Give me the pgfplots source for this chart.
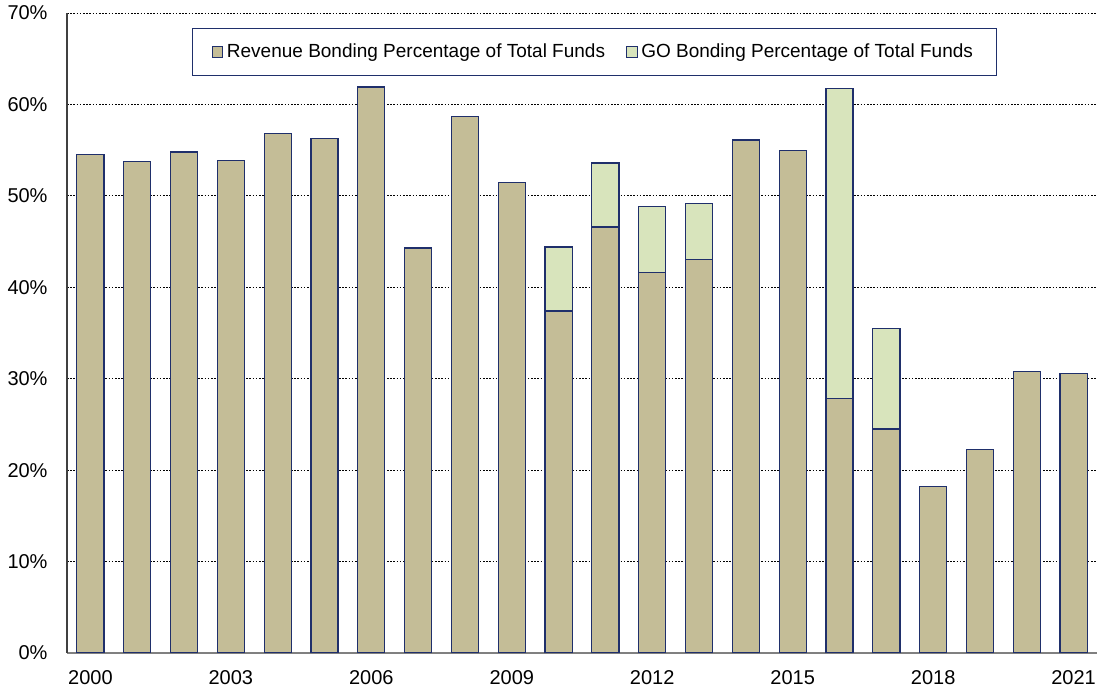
\documentclass[border=0pt]{standalone}
\usepackage{fontspec}
\setmainfont{Liberation Sans}
\usepackage{pgfplots}
\pgfplotsset{compat=1.18}
\definecolor{revc}{HTML}{C4BD97}
\definecolor{goc}{HTML}{D8E4BC}
\definecolor{edgec}{HTML}{1F2F6B}
\begin{document}
\fontsize{10}{12}\selectfont
\begin{tikzpicture}
\begin{axis}[
  name=ax,
  scale only axis,
  width=515pt, height=320pt,
  ybar stacked, bar width=0.58,
  xmin=1999.5, xmax=2021.5,
  ymin=0, ymax=70,
  xtick={2000,2003,2006,2009,2012,2015,2018,2021},
  ytick={0,10,...,70},
  yticklabel={\pgfmathprintnumber{\tick}\%},
  /pgf/number format/1000 sep={},
  /pgf/number format/assume math mode=true,
  tick label style={font=\fontsize{10}{12}\selectfont},
  major tick length=0pt,
  ymajorgrids,
  grid style={black, line width=0.4pt, dash pattern=on 0.8pt off 0.8pt},
  axis x line*=bottom, axis y line*=left,
  x axis line style={gray, line width=1.4pt, -},
  y axis line style={black!75, line width=0.6pt, -},
  xticklabel style={yshift=-5pt},
  yticklabel style={xshift=-6.2pt},
  legend style={at={(0.512,0.9766)}, anchor=north, legend columns=2,
    draw=edgec, line width=0.4pt, inner xsep=9.5pt, inner ysep=5.6pt,
    /tikz/every even column/.append style={column sep=8.5pt},
    nodes={inner xsep=2pt},
    font=\fontsize{9.5}{11}\selectfont},
  legend image code/.code={\draw[#1, line width=0.4pt] (0pt,-2.6pt) rectangle (5.2pt,2.6pt);},
  every axis plot/.append style={draw=edgec, line width=0.6pt},
]
\addplot[fill=revc, draw=edgec] coordinates {
 (2000,54.5) (2001,53.8) (2002,54.8) (2003,53.9) (2004,56.8) (2005,56.3)
 (2006,61.9) (2007,44.3) (2008,58.7) (2009,51.5) (2010,37.4) (2011,46.6)
 (2012,41.6) (2013,43.0) (2014,56.1) (2015,55.0) (2016,27.8) (2017,24.5)
 (2018,18.2) (2019,22.3) (2020,30.8) (2021,30.6)};
\addlegendentry{Revenue Bonding Percentage of Total Funds}
\addplot[fill=goc, draw=edgec] coordinates {
 (2000,0) (2001,0) (2002,0) (2003,0) (2004,0) (2005,0)
 (2006,0) (2007,0) (2008,0) (2009,0) (2010,7.0) (2011,7.0)
 (2012,7.2) (2013,6.2) (2014,0) (2015,0) (2016,33.9) (2017,11.0)
 (2018,0) (2019,0) (2020,0) (2021,0)};
\addlegendentry{GO Bonding Percentage of Total Funds}
\end{axis}
\pgfresetboundingbox
\path ([xshift=-33.5pt,yshift=-20.5pt]ax.south west) rectangle ([yshift=6.5pt]ax.north east);
\end{tikzpicture}
\end{document}
